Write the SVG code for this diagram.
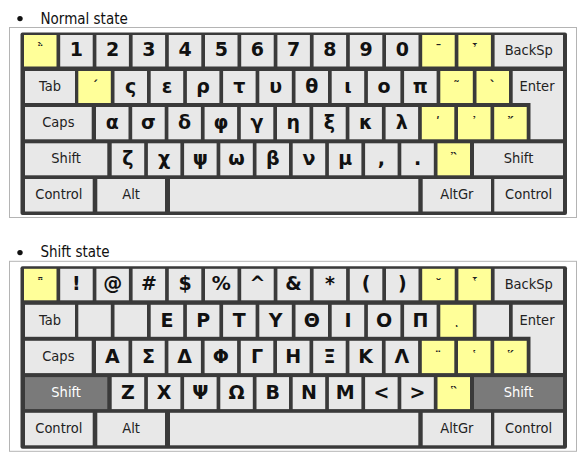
<svg xmlns="http://www.w3.org/2000/svg" width="579" height="470" viewBox="0 0 579 470">
<style>
.bg{fill:#ffffff}
.frame{fill:#ffffff;stroke:#b4b4b4;stroke-width:1}
.kb{fill:#3a3a3a}
.k{fill:#e8e8e8}
.y{fill:#ffff99}
.d{fill:#7a7a7a}
.t{font-family:"DejaVu Sans",sans-serif;font-weight:bold;font-size:19px;fill:#111;text-anchor:middle}
.a{font-family:"DejaVu Sans",sans-serif;font-weight:bold;font-size:13px;fill:#222;text-anchor:middle}
.l{font-family:"DejaVu Sans Condensed","DejaVu Sans",sans-serif;font-stretch:condensed;font-size:14.5px;fill:#222;text-anchor:middle}
.lw{font-family:"DejaVu Sans Condensed","DejaVu Sans",sans-serif;font-stretch:condensed;font-size:14.5px;fill:#fff;text-anchor:middle}
.h{font-family:"DejaVu Sans Condensed","DejaVu Sans",sans-serif;font-stretch:condensed;font-size:15px;fill:#111}
</style>
<rect class="bg" x="0" y="0" width="579" height="470"/>

<g id="normal-state">
<g id="normal-heading"><circle cx="20" cy="18.6" r="2.7" fill="#111"/><text class="h" x="40.5" y="23.5">Normal state</text></g>
<rect class="frame" x="9.5" y="27.5" width="567" height="190"/>
<rect class="kb" x="20.5" y="32.5" width="546.5" height="182.5" rx="2"/>
<!-- row 1 -->
<g id="n-r1-0"><rect class="y" x="24" y="35" width="32.5" height="31.5"/><text class="a" x="40.25" y="54">῭</text></g>
<g id="n-r1-1"><rect class="k" x="60.2" y="35" width="32.5" height="31.5"/><text class="t" x="76.45" y="56">1</text></g>
<g id="n-r1-2"><rect class="k" x="96.4" y="35" width="32.5" height="31.5"/><text class="t" x="112.65" y="56">2</text></g>
<g id="n-r1-3"><rect class="k" x="132.6" y="35" width="32.5" height="31.5"/><text class="t" x="148.85" y="56">3</text></g>
<g id="n-r1-4"><rect class="k" x="168.8" y="35" width="32.5" height="31.5"/><text class="t" x="185.05" y="56">4</text></g>
<g id="n-r1-5"><rect class="k" x="205" y="35" width="32.5" height="31.5"/><text class="t" x="221.25" y="56">5</text></g>
<g id="n-r1-6"><rect class="k" x="241.2" y="35" width="32.5" height="31.5"/><text class="t" x="257.45" y="56">6</text></g>
<g id="n-r1-7"><rect class="k" x="277.4" y="35" width="32.5" height="31.5"/><text class="t" x="293.65" y="56">7</text></g>
<g id="n-r1-8"><rect class="k" x="313.6" y="35" width="32.5" height="31.5"/><text class="t" x="329.85" y="56">8</text></g>
<g id="n-r1-9"><rect class="k" x="349.8" y="35" width="32.5" height="31.5"/><text class="t" x="366.05" y="56">9</text></g>
<g id="n-r1-10"><rect class="k" x="386" y="35" width="32.5" height="31.5"/><text class="t" x="402.25" y="56">0</text></g>
<g id="n-r1-11"><rect class="y" x="422.2" y="35" width="32.5" height="31.5"/><text class="a" x="438.45" y="54">¯</text></g>
<g id="n-r1-12"><rect class="y" x="458.4" y="35" width="32.5" height="31.5"/><text class="a" x="474.65" y="54">῏</text></g>
<g id="n-backsp"><rect class="k" x="494.6" y="35" width="68.4" height="31.5"/><text class="l" x="528.8" y="55">BackSp</text></g>
<!-- row 2 -->
<g id="n-tab"><rect class="k" x="25" y="71" width="50" height="32"/><text class="l" x="50" y="91">Tab</text></g>
<g id="n-r2-0"><rect class="y" x="78.3" y="71" width="32.5" height="32"/><text class="a" x="94.55" y="90">΄</text></g>
<g id="n-r2-1"><rect class="k" x="114.5" y="71" width="32.5" height="32"/><text class="t" x="130.75" y="93">ς</text></g>
<g id="n-r2-2"><rect class="k" x="150.7" y="71" width="32.5" height="32"/><text class="t" x="166.95" y="93">ε</text></g>
<g id="n-r2-3"><rect class="k" x="186.9" y="71" width="32.5" height="32"/><text class="t" x="203.15" y="93">ρ</text></g>
<g id="n-r2-4"><rect class="k" x="223.1" y="71" width="32.5" height="32"/><text class="t" x="239.35" y="93">τ</text></g>
<g id="n-r2-5"><rect class="k" x="259.3" y="71" width="32.5" height="32"/><text class="t" x="275.55" y="93">υ</text></g>
<g id="n-r2-6"><rect class="k" x="295.5" y="71" width="32.5" height="32"/><text class="t" x="311.75" y="93">θ</text></g>
<g id="n-r2-7"><rect class="k" x="331.7" y="71" width="32.5" height="32"/><text class="t" x="347.95" y="93">ι</text></g>
<g id="n-r2-8"><rect class="k" x="367.9" y="71" width="32.5" height="32"/><text class="t" x="384.15" y="93">ο</text></g>
<g id="n-r2-9"><rect class="k" x="404.1" y="71" width="32.5" height="32"/><text class="t" x="420.35" y="93">π</text></g>
<g id="n-r2-10"><rect class="y" x="440.3" y="71" width="32.5" height="32"/><text class="a" x="456.55" y="90">῀</text></g>
<g id="n-r2-11"><rect class="y" x="476.5" y="71" width="32.5" height="32"/><text class="a" x="492.75" y="90">`</text></g>
<g id="n-enter"><path class="k" d="M512.7,71H563V139.3H530.5V103H512.7Z"/><text class="l" x="537" y="91">Enter</text></g>
<!-- row 3 -->
<g id="n-caps"><rect class="k" x="25" y="107" width="66.7" height="32.3"/><text class="l" x="58.35" y="127">Caps</text></g>
<g id="n-r3-0"><rect class="k" x="96" y="107" width="32.5" height="32.3"/><text class="t" x="112.25" y="129">α</text></g>
<g id="n-r3-1"><rect class="k" x="132.2" y="107" width="32.5" height="32.3"/><text class="t" x="148.45" y="129">σ</text></g>
<g id="n-r3-2"><rect class="k" x="168.4" y="107" width="32.5" height="32.3"/><text class="t" x="184.65" y="129">δ</text></g>
<g id="n-r3-3"><rect class="k" x="204.6" y="107" width="32.5" height="32.3"/><text class="t" x="220.85" y="129">φ</text></g>
<g id="n-r3-4"><rect class="k" x="240.8" y="107" width="32.5" height="32.3"/><text class="t" x="257.05" y="129">γ</text></g>
<g id="n-r3-5"><rect class="k" x="277" y="107" width="32.5" height="32.3"/><text class="t" x="293.25" y="129">η</text></g>
<g id="n-r3-6"><rect class="k" x="313.2" y="107" width="32.5" height="32.3"/><text class="t" x="329.45" y="129">ξ</text></g>
<g id="n-r3-7"><rect class="k" x="349.4" y="107" width="32.5" height="32.3"/><text class="t" x="365.65" y="129">κ</text></g>
<g id="n-r3-8"><rect class="k" x="385.6" y="107" width="32.5" height="32.3"/><text class="t" x="401.85" y="129">λ</text></g>
<g id="n-r3-9"><rect class="y" x="421.8" y="107" width="32.5" height="32.3"/><text class="a" x="438.05" y="126">ʹ</text></g>
<g id="n-r3-10"><rect class="y" x="458" y="107" width="32.5" height="32.3"/><text class="a" x="474.25" y="126">᾿</text></g>
<g id="n-r3-11"><rect class="y" x="494.2" y="107" width="32.5" height="32.3"/><text class="a" x="510.45" y="126">῎</text></g>
<!-- row 4 -->
<g id="n-shift-l"><rect class="k" x="25" y="143.3" width="82.3" height="32"/><text class="l" x="66.15" y="163.3">Shift</text></g>
<g id="n-r4-0"><rect class="k" x="111.7" y="143.3" width="32.5" height="32"/><text class="t" x="127.95" y="165">ζ</text></g>
<g id="n-r4-1"><rect class="k" x="147.9" y="143.3" width="32.5" height="32"/><text class="t" x="164.15" y="165">χ</text></g>
<g id="n-r4-2"><rect class="k" x="184.1" y="143.3" width="32.5" height="32"/><text class="t" x="200.35" y="165">ψ</text></g>
<g id="n-r4-3"><rect class="k" x="220.3" y="143.3" width="32.5" height="32"/><text class="t" x="236.55" y="165">ω</text></g>
<g id="n-r4-4"><rect class="k" x="256.5" y="143.3" width="32.5" height="32"/><text class="t" x="272.75" y="165">β</text></g>
<g id="n-r4-5"><rect class="k" x="292.7" y="143.3" width="32.5" height="32"/><text class="t" x="308.95" y="165">ν</text></g>
<g id="n-r4-6"><rect class="k" x="328.9" y="143.3" width="32.5" height="32"/><text class="t" x="345.15" y="165">μ</text></g>
<g id="n-r4-7"><rect class="k" x="365.1" y="143.3" width="32.5" height="32"/><text class="t" x="381.35" y="165">,</text></g>
<g id="n-r4-8"><rect class="k" x="401.3" y="143.3" width="32.5" height="32"/><text class="t" x="417.55" y="165">.</text></g>
<g id="n-r4-9"><rect class="y" x="437.5" y="143.3" width="32.5" height="32"/><text class="a" x="453.75" y="162.3">῍</text></g>
<g id="n-shift-r"><rect class="k" x="474" y="143.3" width="89" height="32"/><text class="l" x="518.5" y="163.3">Shift</text></g>
<!-- row 5 -->
<g id="n-ctrl-l"><rect class="k" x="25" y="179" width="67.7" height="32.5"/><text class="l" x="58.85" y="199.3">Control</text></g>
<g id="n-alt"><rect class="k" x="97.3" y="179" width="67.7" height="32.5"/><text class="l" x="131.15" y="199.3">Alt</text></g>
<g id="n-space"><rect class="k" x="170" y="179" width="248.3" height="32.5"/></g>
<g id="n-altgr"><rect class="k" x="422.7" y="179" width="68.3" height="32.5"/><text class="l" x="456.85" y="199.3">AltGr</text></g>
<g id="n-ctrl-r"><rect class="k" x="494.3" y="179" width="68.7" height="32.5"/><text class="l" x="528.65" y="199.3">Control</text></g>
</g>

<g id="shift-state" transform="translate(0,233.8)">
<g id="shift-heading"><circle cx="20" cy="18.8" r="2.7" fill="#111"/><text class="h" x="40.5" y="23.7">Shift state</text></g>
<rect class="frame" x="9.5" y="27.5" width="567" height="190"/>
<rect class="kb" x="20.5" y="32.5" width="546.5" height="182.5" rx="2"/>
<!-- row 1 -->
<g id="s-r1-0"><rect class="y" x="24" y="35" width="32.5" height="31.5"/><text class="a" x="40.25" y="54">῁</text></g>
<g id="s-r1-1"><rect class="k" x="60.2" y="35" width="32.5" height="31.5"/><text class="t" x="76.45" y="56">!</text></g>
<g id="s-r1-2"><rect class="k" x="96.4" y="35" width="32.5" height="31.5"/><text class="t" x="112.65" y="56">@</text></g>
<g id="s-r1-3"><rect class="k" x="132.6" y="35" width="32.5" height="31.5"/><text class="t" x="148.85" y="56">#</text></g>
<g id="s-r1-4"><rect class="k" x="168.8" y="35" width="32.5" height="31.5"/><text class="t" x="185.05" y="56">$</text></g>
<g id="s-r1-5"><rect class="k" x="205" y="35" width="32.5" height="31.5"/><text class="t" x="221.25" y="56">%</text></g>
<g id="s-r1-6"><rect class="k" x="241.2" y="35" width="32.5" height="31.5"/><text class="t" x="257.45" y="56">^</text></g>
<g id="s-r1-7"><rect class="k" x="277.4" y="35" width="32.5" height="31.5"/><text class="t" x="293.65" y="56">&amp;</text></g>
<g id="s-r1-8"><rect class="k" x="313.6" y="35" width="32.5" height="31.5"/><text class="t" x="329.85" y="56">*</text></g>
<g id="s-r1-9"><rect class="k" x="349.8" y="35" width="32.5" height="31.5"/><text class="t" x="366.05" y="56">(</text></g>
<g id="s-r1-10"><rect class="k" x="386" y="35" width="32.5" height="31.5"/><text class="t" x="402.25" y="56">)</text></g>
<g id="s-r1-11"><rect class="y" x="422.2" y="35" width="32.5" height="31.5"/><text class="a" x="438.45" y="54">˘</text></g>
<g id="s-r1-12"><rect class="y" x="458.4" y="35" width="32.5" height="31.5"/><text class="a" x="474.65" y="54">῟</text></g>
<g id="s-backsp"><rect class="k" x="494.6" y="35" width="68.4" height="31.5"/><text class="l" x="528.8" y="55">BackSp</text></g>
<!-- row 2 -->
<g id="s-tab"><rect class="k" x="25" y="71" width="50" height="32"/><text class="l" x="50" y="91">Tab</text></g>
<g id="s-r2-0"><rect class="k" x="78.3" y="71" width="32.5" height="32"/></g>
<g id="s-r2-1"><rect class="k" x="114.5" y="71" width="32.5" height="32"/></g>
<g id="s-r2-2"><rect class="k" x="150.7" y="71" width="32.5" height="32"/><text class="t" x="166.95" y="93">Ε</text></g>
<g id="s-r2-3"><rect class="k" x="186.9" y="71" width="32.5" height="32"/><text class="t" x="203.15" y="93">Ρ</text></g>
<g id="s-r2-4"><rect class="k" x="223.1" y="71" width="32.5" height="32"/><text class="t" x="239.35" y="93">Τ</text></g>
<g id="s-r2-5"><rect class="k" x="259.3" y="71" width="32.5" height="32"/><text class="t" x="275.55" y="93">Υ</text></g>
<g id="s-r2-6"><rect class="k" x="295.5" y="71" width="32.5" height="32"/><text class="t" x="311.75" y="93">Θ</text></g>
<g id="s-r2-7"><rect class="k" x="331.7" y="71" width="32.5" height="32"/><text class="t" x="347.95" y="93">Ι</text></g>
<g id="s-r2-8"><rect class="k" x="367.9" y="71" width="32.5" height="32"/><text class="t" x="384.15" y="93">Ο</text></g>
<g id="s-r2-9"><rect class="k" x="404.1" y="71" width="32.5" height="32"/><text class="t" x="420.35" y="93">Π</text></g>
<g id="s-r2-10"><rect class="y" x="440.3" y="71" width="32.5" height="32"/><text class="a" x="456.55" y="90">ͺ</text></g>
<g id="s-r2-11"><rect class="k" x="476.5" y="71" width="32.5" height="32"/></g>
<g id="s-enter"><path class="k" d="M512.7,71H563V139.3H530.5V103H512.7Z"/><text class="l" x="537" y="91">Enter</text></g>
<!-- row 3 -->
<g id="s-caps"><rect class="k" x="25" y="107" width="66.7" height="32.3"/><text class="l" x="58.35" y="127">Caps</text></g>
<g id="s-r3-0"><rect class="k" x="96" y="107" width="32.5" height="32.3"/><text class="t" x="112.25" y="129">Α</text></g>
<g id="s-r3-1"><rect class="k" x="132.2" y="107" width="32.5" height="32.3"/><text class="t" x="148.45" y="129">Σ</text></g>
<g id="s-r3-2"><rect class="k" x="168.4" y="107" width="32.5" height="32.3"/><text class="t" x="184.65" y="129">Δ</text></g>
<g id="s-r3-3"><rect class="k" x="204.6" y="107" width="32.5" height="32.3"/><text class="t" x="220.85" y="129">Φ</text></g>
<g id="s-r3-4"><rect class="k" x="240.8" y="107" width="32.5" height="32.3"/><text class="t" x="257.05" y="129">Γ</text></g>
<g id="s-r3-5"><rect class="k" x="277" y="107" width="32.5" height="32.3"/><text class="t" x="293.25" y="129">Η</text></g>
<g id="s-r3-6"><rect class="k" x="313.2" y="107" width="32.5" height="32.3"/><text class="t" x="329.45" y="129">Ξ</text></g>
<g id="s-r3-7"><rect class="k" x="349.4" y="107" width="32.5" height="32.3"/><text class="t" x="365.65" y="129">Κ</text></g>
<g id="s-r3-8"><rect class="k" x="385.6" y="107" width="32.5" height="32.3"/><text class="t" x="401.85" y="129">Λ</text></g>
<g id="s-r3-9"><rect class="y" x="421.8" y="107" width="32.5" height="32.3"/><text class="a" x="438.05" y="126">¨</text></g>
<g id="s-r3-10"><rect class="y" x="458" y="107" width="32.5" height="32.3"/><text class="a" x="474.25" y="126">῾</text></g>
<g id="s-r3-11"><rect class="y" x="494.2" y="107" width="32.5" height="32.3"/><text class="a" x="510.45" y="126">῞</text></g>
<!-- row 4 -->
<g id="s-shift-l"><rect class="d" x="25" y="143.3" width="82.3" height="32"/><text class="lw" x="66.15" y="163.3">Shift</text></g>
<g id="s-r4-0"><rect class="k" x="111.7" y="143.3" width="32.5" height="32"/><text class="t" x="127.95" y="165">Ζ</text></g>
<g id="s-r4-1"><rect class="k" x="147.9" y="143.3" width="32.5" height="32"/><text class="t" x="164.15" y="165">Χ</text></g>
<g id="s-r4-2"><rect class="k" x="184.1" y="143.3" width="32.5" height="32"/><text class="t" x="200.35" y="165">Ψ</text></g>
<g id="s-r4-3"><rect class="k" x="220.3" y="143.3" width="32.5" height="32"/><text class="t" x="236.55" y="165">Ω</text></g>
<g id="s-r4-4"><rect class="k" x="256.5" y="143.3" width="32.5" height="32"/><text class="t" x="272.75" y="165">Β</text></g>
<g id="s-r4-5"><rect class="k" x="292.7" y="143.3" width="32.5" height="32"/><text class="t" x="308.95" y="165">Ν</text></g>
<g id="s-r4-6"><rect class="k" x="328.9" y="143.3" width="32.5" height="32"/><text class="t" x="345.15" y="165">Μ</text></g>
<g id="s-r4-7"><rect class="k" x="365.1" y="143.3" width="32.5" height="32"/><text class="t" x="381.35" y="165">&lt;</text></g>
<g id="s-r4-8"><rect class="k" x="401.3" y="143.3" width="32.5" height="32"/><text class="t" x="417.55" y="165">&gt;</text></g>
<g id="s-r4-9"><rect class="y" x="437.5" y="143.3" width="32.5" height="32"/><text class="a" x="453.75" y="162.3">῝</text></g>
<g id="s-shift-r"><rect class="d" x="474" y="143.3" width="89" height="32"/><text class="lw" x="518.5" y="163.3">Shift</text></g>
<!-- row 5 -->
<g id="s-ctrl-l"><rect class="k" x="25" y="179" width="67.7" height="32.5"/><text class="l" x="58.85" y="199.3">Control</text></g>
<g id="s-alt"><rect class="k" x="97.3" y="179" width="67.7" height="32.5"/><text class="l" x="131.15" y="199.3">Alt</text></g>
<g id="s-space"><rect class="k" x="170" y="179" width="248.3" height="32.5"/></g>
<g id="s-altgr"><rect class="k" x="422.7" y="179" width="68.3" height="32.5"/><text class="l" x="456.85" y="199.3">AltGr</text></g>
<g id="s-ctrl-r"><rect class="k" x="494.3" y="179" width="68.7" height="32.5"/><text class="l" x="528.65" y="199.3">Control</text></g>
</g>
</svg>
